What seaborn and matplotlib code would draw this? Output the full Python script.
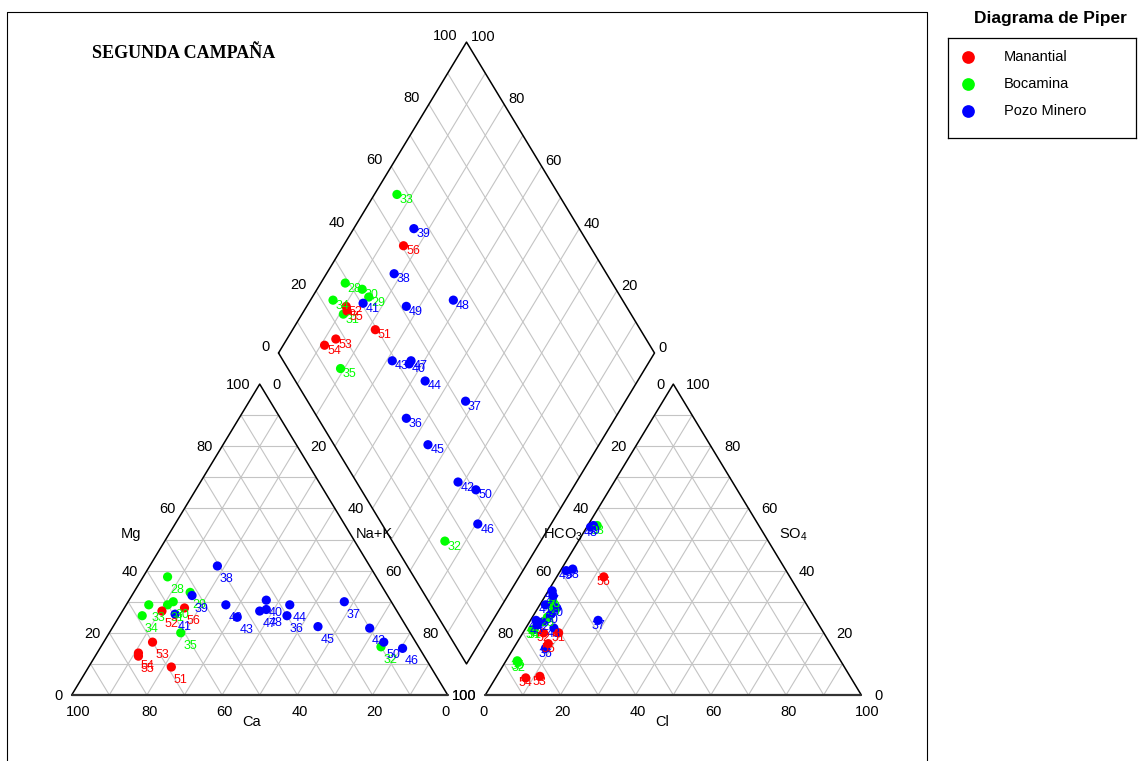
import numpy as np
import pandas as pd
import seaborn as sns
import matplotlib.pyplot as plt
from matplotlib.lines import Line2D

sns.set_style('white')
plt.rcParams['font.family'] = ['Liberation Sans', 'DejaVu Sans']
plt.rcParams.update({'text.color': 'black',
                     'mathtext.fontset': 'custom',
                     'mathtext.rm': 'Liberation Sans',
                     'mathtext.it': 'Liberation Sans:italic',
                     'mathtext.bf': 'Liberation Sans:bold',
                     'mathtext.default': 'regular'})

# --- data (meq %) ---
muestra = [28, 29, 30, 31, 32, 33, 34, 35,
           36, 37, 38, 39, 40, 41, 42, 43, 44, 45, 46, 47, 48, 49, 50,
           51, 52, 53, 54, 55, 56]
grupo = (['Bocamina'] * 8 + ['Pozo Minero'] * 15 + ['Manantial'] * 6)
ca = [55.5, 52, 58, 60, 10, 65, 68.5, 61,
      30, 12.5, 40.5, 52, 33, 59.5, 10, 43.5, 27.5, 23.5, 4.5, 36.5, 34.5, 44.5, 8.5,
      69, 62.5, 70, 75.5, 76, 56]
mg = [38, 33, 30, 29, 15.5, 29, 25.5, 20,
      25.5, 30, 41.5, 32, 30.5, 26, 21.5, 25, 29, 22, 15, 27, 27.5, 29, 17,
      9, 27, 17, 13.5, 12.5, 28]
nak = [6.5, 15, 12, 11, 74.5, 6, 6, 19,
       44.5, 57.5, 18, 16, 36.5, 14.5, 68.5, 31.5, 43.5, 54.5, 80.5, 36.5, 38, 26.5, 74.5,
       22, 10.5, 13, 11, 11.5, 16]
hco3 = [71, 67, 67.5, 76.5, 86, 43, 77, 86,
        76.5, 58, 56.5, 44, 67, 69.5, 73, 71, 65.5, 75, 74.5, 66, 45, 58.5, 69.5,
        70.5, 74.5, 82.5, 86.5, 75, 49.5]
so4 = [25, 30, 28.5, 21, 10.5, 54.5, 21, 11,
       15, 24, 40.5, 54.5, 28, 29, 23.5, 21.5, 33.5, 22.5, 24, 32, 54, 40, 26,
       20, 20, 6, 5.5, 16.5, 38]
cl = [4, 3, 4, 2.5, 3.5, 2.5, 2, 3,
      8.5, 18, 3, 1.5, 5, 1.5, 3.5, 7.5, 1, 2.5, 1.5, 2, 1, 1.5, 4.5,
      9.5, 5.5, 11.5, 8, 8.5, 12.5]

colores = {'Manantial': '#ff0000', 'Bocamina': '#00ff00', 'Pozo Minero': '#0000ff'}
orden = ['Manantial', 'Bocamina', 'Pozo Minero']

H = np.sqrt(3) / 2
GAP = 0.1
LX, LY = 0.5 + GAP / 2, H * (1 + GAP)   # left vertex of the diamond


def cation_xy(ca, mg, nak):
    t = np.asarray(ca) + np.asarray(mg) + np.asarray(nak)
    m, n = np.asarray(mg) / t, np.asarray(nak) / t
    return n + m / 2, m * H


def anion_xy(hco3, so4, cl):
    t = np.asarray(hco3) + np.asarray(so4) + np.asarray(cl)
    s, c = np.asarray(so4) / t, np.asarray(cl) / t
    return 1 + GAP + c + s / 2, s * H


def diamond_xy(n, c):
    n, c = np.asarray(n), np.asarray(c)
    return LX + 0.5 * n + 0.5 * c, LY - H * n + H * c


def px(x, y):
    # pixel position of the reference image -> data units
    return (x - 71.7) / 376., (695 - y) / 359.


fig = plt.figure(figsize=(11.44, 7.61), dpi=100)
ax = fig.add_axes([0, 0, 1, 1])

GRID = dict(color='#c4c4c4', lw=0.8, zorder=1)
EDGE = dict(color='black', lw=1.1, zorder=2)
fr = np.arange(1, 10) / 10.

# triangles
for x0 in [0, 1 + GAP]:
    for t in fr:
        ax.plot([x0 + t / 2, x0 + 1 - t / 2], [t * H, t * H], **GRID)
        ax.plot([x0 + 1 - t, x0 + (1 - t) / 2], [0, (1 - t) * H], **GRID)
        ax.plot([x0 + t, x0 + t + (1 - t) / 2], [0, (1 - t) * H], **GRID)
    ax.plot([x0, x0 + 1, x0 + 0.5, x0], [0, 0, H, 0], **EDGE)
    ax.plot([x0, x0 + 1], [0, 0], color='#333333', lw=1.6, zorder=2)

# diamond
for t in fr:
    ax.plot(*diamond_xy([t, t], [0, 1]), **GRID)
    ax.plot(*diamond_xy([0, 1], [t, t]), **GRID)
ax.plot(*diamond_xy([0, 1, 1, 0, 0], [0, 0, 1, 1, 0]), **EDGE)

# tick labels
TK = dict(fontsize=10.5, textcoords='offset pixels', va='center')
for v in [0, 20, 40, 60, 80, 100]:
    f = v / 100.
    # cation triangle
    ax.annotate(str(v), (1 - f, 0), xytext=(-6, -17), ha='left', **TK)
    ax.annotate(str(v), (f / 2, f * H), xytext=(-9, -1), ha='right', **TK)
    ax.annotate(str(v), (f + (1 - f) / 2, (1 - f) * H),
                xytext=(4 if v == 100 else 12.5, -1), ha='left', **TK)
    # anion triangle
    ax.annotate(str(v), (1 + GAP + f, 0), xytext=(-6, -17), ha='left', **TK)
    ax.annotate(str(v), (1 + GAP + (1 - f) / 2, (1 - f) * H), xytext=(-9, -1),
                ha='right', **TK)
    ax.annotate(str(v), (1 + GAP + (1 - f) + f / 2, f * H), xytext=(13, -1),
                ha='left', **TK)
    # diamond
    ax.annotate(str(v), diamond_xy(0, f), xytext=(-9, 6), ha='right', **TK)
    ax.annotate(str(v), diamond_xy(1 - f, 1), xytext=(4, 5), ha='left', **TK)

# axis names
for txt, (x, y) in [('Ca', (252, 722)), ('Mg', (131, 534)), ('Na+K', (374, 534)),
                    ('HCO$_3$', (563, 535)), ('SO$_4$', (793, 535)), ('Cl', (662, 722))]:
    ax.text(*px(x, y), txt, fontsize=10.5, ha='center', va='center')

# points
cx, cy = cation_xy(ca, mg, nak)
ax_, ay = anion_xy(hco3, so4, cl)
t_an = np.array(hco3) + np.array(so4) + np.array(cl)
dx, dy = diamond_xy(np.array(nak) / (np.array(ca) + np.array(mg) + np.array(nak)),
                    (np.array(so4) + np.array(cl)) / t_an)

for xs, ys, off, ha in [(cx, cy, (2.5, -13), 'left'),
                        (dx, dy, (2.5, -5.5), 'left'),
                        (ax_, ay, (0, -5.5), 'center')]:
    df = pd.DataFrame({'x': xs, 'y': ys, 'grupo': grupo, 'muestra': muestra})
    sns.scatterplot(data=df, x='x', y='y', hue='grupo', palette=colores,
                    hue_order=orden, s=44, linewidth=0, legend=False,
                    ax=ax, zorder=3)
    for _, r in df.iterrows():
        ax.annotate(str(r['muestra']), (r['x'], r['y']), xytext=off,
                    textcoords='offset pixels', ha=ha, va='center',
                    fontsize=9, color=colores[r['grupo']], zorder=4)

ax.set_xlim(px(0, 0)[0], px(1144, 0)[0])
ax.set_ylim(px(0, 761)[1], px(0, 0)[1])
ax.axis('off')

# frame and titles
W, Hf = 1144., 761.
fig.add_artist(Line2D([7 / W, 7 / W, 927 / W, 927 / W],
                      [0, 1 - 11.5 / Hf, 1 - 11.5 / Hf, 0],
                      transform=fig.transFigure, color='black', lw=0.8))
fig.text(92 / W, 1 - 53 / Hf, 'SEGUNDA CAMPAÑA', family='Liberation Serif',
         weight='bold', fontsize=13, ha='left', va='center')
fig.text(1050 / W, 1 - 18.5 / Hf, 'Diagrama de Piper', weight='bold',
         fontsize=12.5, ha='center', va='center')

# legend box
lax = fig.add_axes([948.3 / W, 1 - 137.7 / Hf, 187.4 / W, 99.4 / Hf])
lax.set_xlim(0, 1)
lax.set_ylim(0, 1)
lax.set_xticks([])
lax.set_yticks([])
for sp in lax.spines.values():
    sp.set_color('black')
    sp.set_linewidth(0.9)
for yy, g in zip([0.815, 0.537, 0.269], orden):
    lax.scatter([0.107], [yy], s=84, color=colores[g], linewidth=0)
    lax.text(0.297, yy, g, fontsize=10.5, ha='left', va='center')

fig.savefig('out.png', dpi=100)
